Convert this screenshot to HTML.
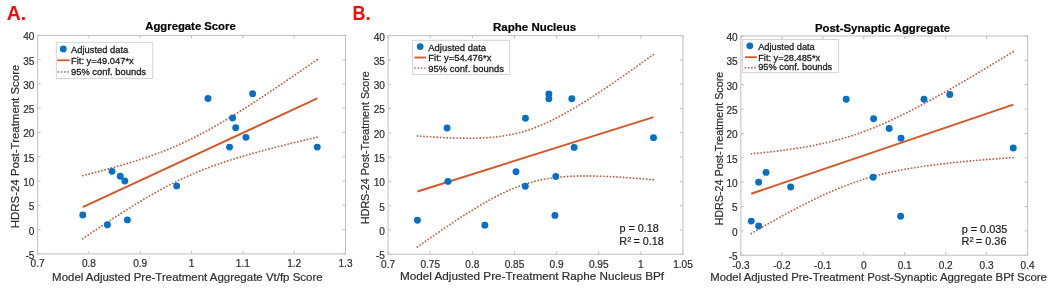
<!DOCTYPE html>
<html><head><meta charset="utf-8"><style>
html,body{margin:0;padding:0;background:#fff;}
svg{display:block;filter:blur(0.35px);}
text{font-family:"Liberation Sans", sans-serif;fill:#2e2e2e;stroke:#2e2e2e;stroke-width:0.2px;}
.tk{font-size:10.1px;}
.lb{}
.ti{font-weight:bold;fill:#000;stroke:#000;stroke-width:0.2px;}
.lg{fill:#1a1a1a;stroke:#1a1a1a;stroke-width:0.28px;}
.st{fill:#1a1a1a;stroke:#1a1a1a;}
.let{font-size:19.4px;font-weight:bold;fill:#f20c0c;stroke:none;}
.dl{stroke:#bc6344;stroke-width:1.9;stroke-linecap:round;fill:none;}
</style></head><body>
<svg width="1050" height="293" viewBox="0 0 1050 293">
<rect width="1050" height="293" fill="#fff"/>
<g>
<rect x="37.60" y="35.40" width="307.90" height="218.50" fill="#fff" stroke="#c0c0c0" stroke-width="1"/>
<path d="M37.60 253.90v-3.0M37.60 35.40v3.0M88.92 253.90v-3.0M88.92 35.40v3.0M140.23 253.90v-3.0M140.23 35.40v3.0M191.55 253.90v-3.0M191.55 35.40v3.0M242.87 253.90v-3.0M242.87 35.40v3.0M294.18 253.90v-3.0M294.18 35.40v3.0M345.50 253.90v-3.0M345.50 35.40v3.0M37.60 253.90h3.0M345.50 253.90h-3.0M37.60 229.62h3.0M345.50 229.62h-3.0M37.60 205.34h3.0M345.50 205.34h-3.0M37.60 181.07h3.0M345.50 181.07h-3.0M37.60 156.79h3.0M345.50 156.79h-3.0M37.60 132.51h3.0M345.50 132.51h-3.0M37.60 108.23h3.0M345.50 108.23h-3.0M37.60 83.96h3.0M345.50 83.96h-3.0M37.60 59.68h3.0M345.50 59.68h-3.0M37.60 35.40h3.0M345.50 35.40h-3.0" stroke="#c0c0c0" stroke-width="1" fill="none"/>
<text x="37.60" y="267.30" text-anchor="middle" class="tk">0.7</text>
<text x="88.92" y="267.30" text-anchor="middle" class="tk">0.8</text>
<text x="140.23" y="267.30" text-anchor="middle" class="tk">0.9</text>
<text x="191.55" y="267.30" text-anchor="middle" class="tk">1</text>
<text x="242.87" y="267.30" text-anchor="middle" class="tk">1.1</text>
<text x="294.18" y="267.30" text-anchor="middle" class="tk">1.2</text>
<text x="345.50" y="267.30" text-anchor="middle" class="tk">1.3</text>
<text x="34.40" y="258.80" text-anchor="end" class="tk">-5</text>
<text x="34.40" y="234.52" text-anchor="end" class="tk">0</text>
<text x="34.40" y="210.24" text-anchor="end" class="tk">5</text>
<text x="34.40" y="185.97" text-anchor="end" class="tk">10</text>
<text x="34.40" y="161.69" text-anchor="end" class="tk">15</text>
<text x="34.40" y="137.41" text-anchor="end" class="tk">20</text>
<text x="34.40" y="113.13" text-anchor="end" class="tk">25</text>
<text x="34.40" y="88.86" text-anchor="end" class="tk">30</text>
<text x="34.40" y="64.58" text-anchor="end" class="tk">35</text>
<text x="34.40" y="40.30" text-anchor="end" class="tk">40</text>
<polyline points="82.76,175.59 85.73,174.85 88.70,174.09 91.66,173.33 94.63,172.57 97.60,171.79 100.57,171.01 103.54,170.22 106.51,169.42 109.48,168.61 112.44,167.79 115.41,166.96 118.38,166.12 121.35,165.26 124.32,164.39 127.29,163.51 130.26,162.61 133.22,161.70 136.19,160.76 139.16,159.81 142.13,158.84 145.10,157.85 148.07,156.84 151.04,155.81 154.00,154.75 156.97,153.66 159.94,152.55 162.91,151.41 165.88,150.24 168.85,149.04 171.82,147.81 174.78,146.55 177.75,145.25 180.72,143.93 183.69,142.57 186.66,141.18 189.63,139.75 192.60,138.29 195.56,136.80 198.53,135.28 201.50,133.73 204.47,132.14 207.44,130.53 210.41,128.89 213.38,127.23 216.34,125.53 219.31,123.82 222.28,122.08 225.25,120.31 228.22,118.53 231.19,116.73 234.16,114.91 237.12,113.07 240.09,111.21 243.06,109.34 246.03,107.46 249.00,105.56 251.97,103.65 254.94,101.73 257.90,99.80 260.87,97.85 263.84,95.90 266.81,93.94 269.78,91.97 272.75,89.99 275.72,88.00 278.68,86.01 281.65,84.01 284.62,82.00 287.59,79.99 290.56,77.97 293.53,75.94 296.50,73.92 299.46,71.88 302.43,69.84 305.40,67.80 308.37,65.76 311.34,63.71 314.31,61.65 317.28,59.60" class="dl" stroke-dasharray="0 3.2942" fill="none"/>
<polyline points="82.76,238.64 85.73,236.63 88.70,234.63 91.66,232.63 94.63,230.65 97.60,228.67 100.57,226.70 103.54,224.73 106.51,222.78 109.48,220.83 112.44,218.90 115.41,216.98 118.38,215.07 121.35,213.17 124.32,211.28 127.29,209.41 130.26,207.56 133.22,205.72 136.19,203.90 139.16,202.09 142.13,200.31 145.10,198.54 148.07,196.80 151.04,195.08 154.00,193.39 156.97,191.72 159.94,190.08 162.91,188.47 165.88,186.88 168.85,185.33 171.82,183.80 174.78,182.31 177.75,180.85 180.72,179.42 183.69,178.03 186.66,176.67 189.63,175.34 192.60,174.04 195.56,172.78 198.53,171.55 201.50,170.35 204.47,169.18 207.44,168.03 210.41,166.92 213.38,165.83 216.34,164.77 219.31,163.73 222.28,162.72 225.25,161.73 228.22,160.76 231.19,159.81 234.16,158.87 237.12,157.96 240.09,157.06 243.06,156.17 246.03,155.30 249.00,154.45 251.97,153.60 254.94,152.77 257.90,151.95 260.87,151.14 263.84,150.34 266.81,149.55 269.78,148.77 272.75,147.99 275.72,147.23 278.68,146.47 281.65,145.71 284.62,144.96 287.59,144.22 290.56,143.49 293.53,142.76 296.50,142.03 299.46,141.31 302.43,140.60 305.40,139.88 308.37,139.17 311.34,138.47 314.31,137.77 317.28,137.07" class="dl" stroke-dasharray="0 3.3021" fill="none"/>
<path d="M82.76 207.12L317.28 98.33" stroke="#d4582a" stroke-width="2" fill="none"/>
<circle cx="82.76" cy="215.06" r="3.45" fill="#0a6fc4"/>
<circle cx="107.39" cy="224.77" r="3.45" fill="#0a6fc4"/>
<circle cx="127.40" cy="219.91" r="3.45" fill="#0a6fc4"/>
<circle cx="112.01" cy="171.36" r="3.45" fill="#0a6fc4"/>
<circle cx="120.22" cy="176.21" r="3.45" fill="#0a6fc4"/>
<circle cx="124.84" cy="181.07" r="3.45" fill="#0a6fc4"/>
<circle cx="176.67" cy="185.92" r="3.45" fill="#0a6fc4"/>
<circle cx="207.97" cy="98.52" r="3.45" fill="#0a6fc4"/>
<circle cx="252.62" cy="93.67" r="3.45" fill="#0a6fc4"/>
<circle cx="232.60" cy="117.94" r="3.45" fill="#0a6fc4"/>
<circle cx="235.68" cy="127.66" r="3.45" fill="#0a6fc4"/>
<circle cx="245.95" cy="137.37" r="3.45" fill="#0a6fc4"/>
<circle cx="229.52" cy="147.08" r="3.45" fill="#0a6fc4"/>
<circle cx="317.28" cy="147.08" r="3.45" fill="#0a6fc4"/>
<rect x="56.30" y="42.30" width="96.50" height="36.10" fill="#fff" stroke="#cfcfcf" stroke-width="0.9"/>
<circle cx="63.30" cy="48.90" r="3.4" fill="#0a6fc4"/>
<path d="M57.20 60.30H69.80" stroke="#d4582a" stroke-width="1.8"/>
<circle cx="58.50" cy="71.90" r="0.95" fill="#bc7466"/>
<circle cx="61.70" cy="71.90" r="0.95" fill="#bc7466"/>
<circle cx="64.90" cy="71.90" r="0.95" fill="#bc7466"/>
<circle cx="68.10" cy="71.90" r="0.95" fill="#bc7466"/>
<text x="71.00" y="52.80" class="lg" font-size="9.4">Adjusted data</text>
<text x="71.00" y="63.90" class="lg" font-size="9.4">Fit: y=49.047*x</text>
<text x="71.00" y="75.20" class="lg" font-size="9.4">95% conf. bounds</text>
<text x="190.50" y="30.10" text-anchor="middle" class="ti" font-size="11.3">Aggregate Score</text>
<text x="52.09" y="281.20" class="lb" font-size="11.4" textLength="270.55" lengthAdjust="spacingAndGlyphs">Model Adjusted Pre-Treatment Aggregate Vt/fp Score</text>
<text transform="translate(19.00 228.21) rotate(-90)" class="lb" font-size="11.4" textLength="163.55" lengthAdjust="spacingAndGlyphs">HDRS-24 Post-Treatment Score</text>
<text transform="translate(6.7 20.2) scale(1.0 1)" class="let">A.</text>
</g>
<g>
<rect x="388.10" y="35.60" width="294.90" height="218.70" fill="#fff" stroke="#c0c0c0" stroke-width="1"/>
<path d="M388.10 254.30v-3.0M388.10 35.60v3.0M430.23 254.30v-3.0M430.23 35.60v3.0M472.36 254.30v-3.0M472.36 35.60v3.0M514.49 254.30v-3.0M514.49 35.60v3.0M556.61 254.30v-3.0M556.61 35.60v3.0M598.74 254.30v-3.0M598.74 35.60v3.0M640.87 254.30v-3.0M640.87 35.60v3.0M683.00 254.30v-3.0M683.00 35.60v3.0M388.10 254.30h3.0M683.00 254.30h-3.0M388.10 230.00h3.0M683.00 230.00h-3.0M388.10 205.70h3.0M683.00 205.70h-3.0M388.10 181.40h3.0M683.00 181.40h-3.0M388.10 157.10h3.0M683.00 157.10h-3.0M388.10 132.80h3.0M683.00 132.80h-3.0M388.10 108.50h3.0M683.00 108.50h-3.0M388.10 84.20h3.0M683.00 84.20h-3.0M388.10 59.90h3.0M683.00 59.90h-3.0M388.10 35.60h3.0M683.00 35.60h-3.0" stroke="#c0c0c0" stroke-width="1" fill="none"/>
<text x="388.10" y="267.70" text-anchor="middle" class="tk">0.7</text>
<text x="430.23" y="267.70" text-anchor="middle" class="tk">0.75</text>
<text x="472.36" y="267.70" text-anchor="middle" class="tk">0.8</text>
<text x="514.49" y="267.70" text-anchor="middle" class="tk">0.85</text>
<text x="556.61" y="267.70" text-anchor="middle" class="tk">0.9</text>
<text x="598.74" y="267.70" text-anchor="middle" class="tk">0.95</text>
<text x="640.87" y="267.70" text-anchor="middle" class="tk">1</text>
<text x="683.00" y="267.70" text-anchor="middle" class="tk">1.05</text>
<text x="384.90" y="259.20" text-anchor="end" class="tk">-5</text>
<text x="384.90" y="234.90" text-anchor="end" class="tk">0</text>
<text x="384.90" y="210.60" text-anchor="end" class="tk">5</text>
<text x="384.90" y="186.30" text-anchor="end" class="tk">10</text>
<text x="384.90" y="162.00" text-anchor="end" class="tk">15</text>
<text x="384.90" y="137.70" text-anchor="end" class="tk">20</text>
<text x="384.90" y="113.40" text-anchor="end" class="tk">25</text>
<text x="384.90" y="89.10" text-anchor="end" class="tk">30</text>
<text x="384.90" y="64.80" text-anchor="end" class="tk">35</text>
<text x="384.90" y="40.50" text-anchor="end" class="tk">40</text>
<polyline points="417.42,135.90 420.41,136.13 423.40,136.35 426.39,136.56 429.38,136.77 432.36,136.96 435.35,137.15 438.34,137.32 441.33,137.48 444.32,137.63 447.31,137.77 450.29,137.89 453.28,137.99 456.27,138.08 459.26,138.15 462.25,138.21 465.24,138.24 468.23,138.24 471.21,138.23 474.20,138.18 477.19,138.11 480.18,138.01 483.17,137.88 486.16,137.71 489.14,137.50 492.13,137.25 495.12,136.96 498.11,136.62 501.10,136.23 504.09,135.79 507.08,135.29 510.06,134.74 513.05,134.13 516.04,133.45 519.03,132.71 522.02,131.91 525.01,131.03 527.99,130.09 530.98,129.09 533.97,128.01 536.96,126.88 539.95,125.67 542.94,124.41 545.93,123.08 548.91,121.70 551.90,120.26 554.89,118.77 557.88,117.23 560.87,115.64 563.86,114.01 566.84,112.34 569.83,110.63 572.82,108.88 575.81,107.11 578.80,105.30 581.79,103.46 584.78,101.60 587.76,99.71 590.75,97.80 593.74,95.87 596.73,93.91 599.72,91.95 602.71,89.96 605.69,87.96 608.68,85.94 611.67,83.91 614.66,81.87 617.65,79.81 620.64,77.75 623.63,75.67 626.61,73.59 629.60,71.49 632.59,69.39 635.58,67.28 638.57,65.16 641.56,63.04 644.54,60.91 647.53,58.77 650.52,56.63 653.51,54.48" class="dl" stroke-dasharray="0 3.3107" fill="none"/>
<polyline points="417.42,247.00 420.41,244.89 423.40,242.79 426.39,240.69 429.38,238.61 432.36,236.53 435.35,234.47 438.34,232.41 441.33,230.37 444.32,228.34 447.31,226.32 450.29,224.32 453.28,222.33 456.27,220.36 459.26,218.41 462.25,216.48 465.24,214.56 468.23,212.68 471.21,210.81 474.20,208.97 477.19,207.16 480.18,205.38 483.17,203.64 486.16,201.93 489.14,200.25 492.13,198.62 495.12,197.03 498.11,195.49 501.10,194.00 504.09,192.56 507.08,191.17 510.06,189.84 513.05,188.58 516.04,187.37 519.03,186.23 522.02,185.15 525.01,184.14 527.99,183.20 530.98,182.33 533.97,181.52 536.96,180.78 539.95,180.10 542.94,179.48 545.93,178.93 548.91,178.43 551.90,177.99 554.89,177.60 557.88,177.26 560.87,176.96 563.86,176.71 566.84,176.50 569.83,176.33 572.82,176.19 575.81,176.09 578.80,176.02 581.79,175.97 584.78,175.96 587.76,175.96 590.75,175.99 593.74,176.04 596.73,176.11 599.72,176.20 602.71,176.31 605.69,176.43 608.68,176.56 611.67,176.71 614.66,176.87 617.65,177.05 620.64,177.23 623.63,177.43 626.61,177.63 629.60,177.84 632.59,178.06 635.58,178.29 638.57,178.53 641.56,178.77 644.54,179.02 647.53,179.28 650.52,179.54 653.51,179.81" class="dl" stroke-dasharray="0 3.3016" fill="none"/>
<path d="M417.42 191.45L653.51 117.14" stroke="#d4582a" stroke-width="2" fill="none"/>
<circle cx="417.42" cy="220.28" r="3.45" fill="#0a6fc4"/>
<circle cx="447.08" cy="127.94" r="3.45" fill="#0a6fc4"/>
<circle cx="447.92" cy="181.40" r="3.45" fill="#0a6fc4"/>
<circle cx="484.83" cy="225.14" r="3.45" fill="#0a6fc4"/>
<circle cx="516.00" cy="171.68" r="3.45" fill="#0a6fc4"/>
<circle cx="525.27" cy="186.26" r="3.45" fill="#0a6fc4"/>
<circle cx="525.44" cy="118.22" r="3.45" fill="#0a6fc4"/>
<circle cx="548.86" cy="93.92" r="3.45" fill="#0a6fc4"/>
<circle cx="548.86" cy="98.78" r="3.45" fill="#0a6fc4"/>
<circle cx="571.78" cy="98.78" r="3.45" fill="#0a6fc4"/>
<circle cx="574.14" cy="147.38" r="3.45" fill="#0a6fc4"/>
<circle cx="555.77" cy="176.54" r="3.45" fill="#0a6fc4"/>
<circle cx="554.93" cy="215.42" r="3.45" fill="#0a6fc4"/>
<circle cx="653.51" cy="137.66" r="3.45" fill="#0a6fc4"/>
<rect x="412.40" y="40.30" width="97.30" height="34.20" fill="#fff" stroke="#cfcfcf" stroke-width="0.9"/>
<circle cx="420.20" cy="46.60" r="3.4" fill="#0a6fc4"/>
<path d="M414.40 57.50H426.20" stroke="#d4582a" stroke-width="1.8"/>
<circle cx="414.90" cy="68.10" r="0.95" fill="#bc7466"/>
<circle cx="418.23" cy="68.10" r="0.95" fill="#bc7466"/>
<circle cx="421.56" cy="68.10" r="0.95" fill="#bc7466"/>
<circle cx="424.89" cy="68.10" r="0.95" fill="#bc7466"/>
<text x="428.30" y="50.50" class="lg" font-size="9.45">Adjusted data</text>
<text x="428.30" y="61.00" class="lg" font-size="9.45">Fit: y=54.476*x</text>
<text x="428.30" y="71.70" class="lg" font-size="9.45">95% conf. bounds</text>
<text x="534.60" y="31.00" text-anchor="middle" class="ti" font-size="11.5">Raphe Nucleus</text>
<text x="399.98" y="279.90" class="lb" font-size="11.5" textLength="264.07" lengthAdjust="spacingAndGlyphs">Model Adjusted Pre-Treatment Raphe Nucleus BPf</text>
<text transform="translate(369.00 224.06) rotate(-90)" class="lb" font-size="10.7" textLength="152.88" lengthAdjust="spacingAndGlyphs">HDRS-24 Post-Treatment Score</text>
<text transform="translate(352.4 20.2) scale(0.93 1)" class="let">B.</text>
<text x="619.44" y="231.70" class="st" font-size="10.8">p = 0.18</text>
<text x="619.34" y="244.90" class="st" font-size="10.8">R<tspan dy="-2.6" font-size="7.56">2</tspan><tspan dy="2.6" dx="-0.8"> = 0.18</tspan></text>
</g>
<g>
<rect x="740.90" y="36.00" width="286.70" height="219.20" fill="#fff" stroke="#c0c0c0" stroke-width="1"/>
<path d="M740.90 255.20v-3.0M740.90 36.00v3.0M781.86 255.20v-3.0M781.86 36.00v3.0M822.81 255.20v-3.0M822.81 36.00v3.0M863.77 255.20v-3.0M863.77 36.00v3.0M904.73 255.20v-3.0M904.73 36.00v3.0M945.69 255.20v-3.0M945.69 36.00v3.0M986.64 255.20v-3.0M986.64 36.00v3.0M1027.60 255.20v-3.0M1027.60 36.00v3.0M740.90 255.20h3.0M1027.60 255.20h-3.0M740.90 230.84h3.0M1027.60 230.84h-3.0M740.90 206.49h3.0M1027.60 206.49h-3.0M740.90 182.13h3.0M1027.60 182.13h-3.0M740.90 157.78h3.0M1027.60 157.78h-3.0M740.90 133.42h3.0M1027.60 133.42h-3.0M740.90 109.07h3.0M1027.60 109.07h-3.0M740.90 84.71h3.0M1027.60 84.71h-3.0M740.90 60.36h3.0M1027.60 60.36h-3.0M740.90 36.00h3.0M1027.60 36.00h-3.0" stroke="#c0c0c0" stroke-width="1" fill="none"/>
<text x="740.90" y="268.60" text-anchor="middle" class="tk">-0.3</text>
<text x="781.86" y="268.60" text-anchor="middle" class="tk">-0.2</text>
<text x="822.81" y="268.60" text-anchor="middle" class="tk">-0.1</text>
<text x="863.77" y="268.60" text-anchor="middle" class="tk">0</text>
<text x="904.73" y="268.60" text-anchor="middle" class="tk">0.1</text>
<text x="945.69" y="268.60" text-anchor="middle" class="tk">0.2</text>
<text x="986.64" y="268.60" text-anchor="middle" class="tk">0.3</text>
<text x="1027.60" y="268.60" text-anchor="middle" class="tk">0.4</text>
<text x="737.70" y="260.10" text-anchor="end" class="tk">-5</text>
<text x="737.70" y="235.74" text-anchor="end" class="tk">0</text>
<text x="737.70" y="211.39" text-anchor="end" class="tk">5</text>
<text x="737.70" y="187.03" text-anchor="end" class="tk">10</text>
<text x="737.70" y="162.68" text-anchor="end" class="tk">15</text>
<text x="737.70" y="138.32" text-anchor="end" class="tk">20</text>
<text x="737.70" y="113.97" text-anchor="end" class="tk">25</text>
<text x="737.70" y="89.61" text-anchor="end" class="tk">30</text>
<text x="737.70" y="65.26" text-anchor="end" class="tk">35</text>
<text x="737.70" y="40.90" text-anchor="end" class="tk">40</text>
<polyline points="751.26,153.86 754.58,153.54 757.90,153.20 761.21,152.85 764.53,152.50 767.84,152.13 771.16,151.75 774.48,151.35 777.79,150.94 781.11,150.52 784.43,150.08 787.74,149.63 791.06,149.15 794.38,148.66 797.69,148.15 801.01,147.61 804.33,147.06 807.64,146.47 810.96,145.87 814.28,145.23 817.59,144.57 820.91,143.87 824.22,143.15 827.54,142.39 830.86,141.59 834.17,140.76 837.49,139.90 840.81,138.99 844.12,138.04 847.44,137.06 850.76,136.03 854.07,134.96 857.39,133.84 860.71,132.69 864.02,131.49 867.34,130.25 870.66,128.97 873.97,127.65 877.29,126.29 880.61,124.89 883.92,123.45 887.24,121.98 890.55,120.47 893.87,118.93 897.19,117.36 900.50,115.76 903.82,114.13 907.14,112.48 910.45,110.79 913.77,109.09 917.09,107.36 920.40,105.61 923.72,103.84 927.04,102.06 930.35,100.25 933.67,98.43 936.99,96.59 940.30,94.74 943.62,92.88 946.94,91.00 950.25,89.11 953.57,87.21 956.88,85.29 960.20,83.37 963.52,81.44 966.83,79.50 970.15,77.55 973.47,75.60 976.78,73.63 980.10,71.66 983.42,69.68 986.73,67.70 990.05,65.71 993.37,63.72 996.68,61.72 1000.00,59.71 1003.32,57.70 1006.63,55.69 1009.95,53.67 1013.26,51.65" class="dl" stroke-dasharray="0 3.3083" fill="none"/>
<polyline points="751.26,233.50 754.58,231.57 757.90,229.65 761.21,227.74 764.53,225.84 767.84,223.96 771.16,222.08 774.48,220.22 777.79,218.37 781.11,216.54 784.43,214.72 787.74,212.92 791.06,211.14 794.38,209.38 797.69,207.64 801.01,205.92 804.33,204.22 807.64,202.55 810.96,200.90 814.28,199.28 817.59,197.69 820.91,196.13 824.22,194.60 827.54,193.10 830.86,191.64 834.17,190.22 837.49,188.83 840.81,187.48 844.12,186.17 847.44,184.90 850.76,183.68 854.07,182.49 857.39,181.35 860.71,180.25 864.02,179.19 867.34,178.18 870.66,177.20 873.97,176.27 877.29,175.38 880.61,174.52 883.92,173.70 887.24,172.92 890.55,172.17 893.87,171.46 897.19,170.77 900.50,170.12 903.82,169.49 907.14,168.89 910.45,168.32 913.77,167.77 917.09,167.24 920.40,166.74 923.72,166.25 927.04,165.78 930.35,165.33 933.67,164.90 936.99,164.48 940.30,164.08 943.62,163.69 946.94,163.31 950.25,162.94 953.57,162.59 956.88,162.25 960.20,161.91 963.52,161.59 966.83,161.28 970.15,160.97 973.47,160.67 976.78,160.38 980.10,160.09 983.42,159.82 986.73,159.55 990.05,159.28 993.37,159.02 996.68,158.76 1000.00,158.51 1003.32,158.27 1006.63,158.03 1009.95,157.79 1013.26,157.56" class="dl" stroke-dasharray="0 3.2890" fill="none"/>
<path d="M751.26 193.68L1013.26 104.60" stroke="#d4582a" stroke-width="2" fill="none"/>
<circle cx="751.26" cy="221.10" r="3.45" fill="#0a6fc4"/>
<circle cx="758.63" cy="225.97" r="3.45" fill="#0a6fc4"/>
<circle cx="758.63" cy="182.13" r="3.45" fill="#0a6fc4"/>
<circle cx="766.01" cy="172.39" r="3.45" fill="#0a6fc4"/>
<circle cx="790.66" cy="187.00" r="3.45" fill="#0a6fc4"/>
<circle cx="846.16" cy="99.32" r="3.45" fill="#0a6fc4"/>
<circle cx="873.19" cy="177.26" r="3.45" fill="#0a6fc4"/>
<circle cx="873.60" cy="118.81" r="3.45" fill="#0a6fc4"/>
<circle cx="889.16" cy="128.55" r="3.45" fill="#0a6fc4"/>
<circle cx="901.04" cy="138.29" r="3.45" fill="#0a6fc4"/>
<circle cx="900.63" cy="216.23" r="3.45" fill="#0a6fc4"/>
<circle cx="923.98" cy="99.32" r="3.45" fill="#0a6fc4"/>
<circle cx="949.78" cy="94.45" r="3.45" fill="#0a6fc4"/>
<circle cx="1013.26" cy="148.04" r="3.45" fill="#0a6fc4"/>
<rect x="742.70" y="39.50" width="95.70" height="32.90" fill="#fff" stroke="#cfcfcf" stroke-width="0.9"/>
<circle cx="749.80" cy="45.80" r="3.4" fill="#0a6fc4"/>
<path d="M745.00 57.20H756.80" stroke="#d4582a" stroke-width="1.8"/>
<circle cx="745.40" cy="67.70" r="0.95" fill="#bc7466"/>
<circle cx="748.63" cy="67.70" r="0.95" fill="#bc7466"/>
<circle cx="751.86" cy="67.70" r="0.95" fill="#bc7466"/>
<circle cx="755.09" cy="67.70" r="0.95" fill="#bc7466"/>
<text x="758.20" y="49.70" class="lg" font-size="9.25">Adjusted data</text>
<text x="758.20" y="60.70" class="lg" font-size="9.25">Fit: y=28.485*x</text>
<text x="758.20" y="70.40" class="lg" font-size="9.25">95% conf. bounds</text>
<text x="882.50" y="31.80" text-anchor="middle" class="ti" font-size="11.4">Post-Synaptic Aggregate</text>
<text x="710.19" y="281.00" class="lb" font-size="11.35" textLength="336.65" lengthAdjust="spacingAndGlyphs">Model Adjusted Pre-Treatment Post-Synaptic Aggregate BPf Score</text>
<text transform="translate(722.90 225.46) rotate(-90)" class="lb" font-size="10.7" textLength="153.68" lengthAdjust="spacingAndGlyphs">HDRS-24 Post-Treatment Score</text>
<text x="961.64" y="232.90" class="st" font-size="10.9">p = 0.035</text>
<text x="961.53" y="244.90" class="st" font-size="10.9">R<tspan dy="-2.6" font-size="7.63">2</tspan><tspan dy="2.6" dx="-0.8"> = 0.36</tspan></text>
</g>
</svg>
</body></html>
